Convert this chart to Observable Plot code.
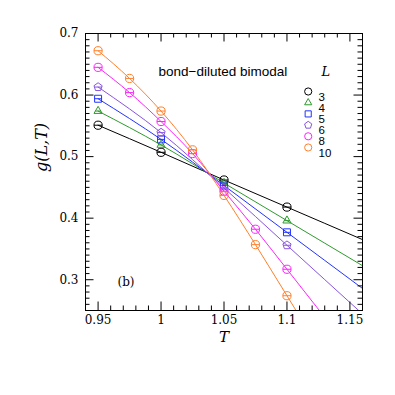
<!DOCTYPE html>
<html>
<head>
<meta charset="utf-8">
<script src="https://cdn.jsdelivr.net/npm/d3@7"></script>
<script src="https://cdn.jsdelivr.net/npm/@observablehq/plot@0.6"></script>
<style>
  html, body { margin: 0; padding: 0; background: #fff; }
  svg { display: block; }
</style>
</head>
<body>
<div id="chart"></div>
<script>
// ---- data ----
const sizes = [3, 4, 5, 6, 8, 10];
const colors = ["#000000", "#2e9a2e", "#2233ff", "#8855dd", "#ff22ff", "#ff7f2a"];
const T4 = [0.95, 1.0, 1.05, 1.1];
const T7 = [0.95, 0.975, 1.0, 1.025, 1.05, 1.075, 1.1];
const g3 = [0.551, 0.507, 0.462, 0.418];
const g4 = [0.574, 0.519, 0.457, 0.396];
const g5 = [0.594, 0.528, 0.453, 0.377];
const g6 = [0.613, 0.539, 0.449, 0.356];
const g8 = [0.645, 0.604, 0.557, 0.505, 0.444, 0.382, 0.317];
const g10 = [0.672, 0.627, 0.574, 0.511, 0.437, 0.357, 0.274];
const xMajor = [0.95, 1.0, 1.05, 1.1, 1.15];
const yMajor = [0.3, 0.4, 0.5, 0.6, 0.7];
const xDomain = [0.94, 1.16];
const yDomain = [0.25, 0.70];
const title = "bond\u2212diluted bimodal";

const seriesT = [T4, T4, T4, T4, T7, T7];
const seriesG = [g3, g4, g5, g6, g8, g10];

// ---- symbols ----
function bar(ctx, r) { ctx.moveTo(-r, 0); ctx.lineTo(r, 0); }
function poly(ctx, n, r, rot) {
  for (let k = 0; k < n; ++k) {
    const a = rot + k * 2 * Math.PI / n;
    const px = r * Math.cos(a), py = r * Math.sin(a);
    if (k === 0) ctx.moveTo(px, py); else ctx.lineTo(px, py);
  }
  ctx.closePath();
}
function makeSymbol(kind, withBar) {
  return {
    draw(ctx, size) {
      const r = Math.sqrt(size / Math.PI);
      if (kind === "circle") { ctx.moveTo(r, 0); ctx.arc(0, 0, r, 0, 2 * Math.PI); if (withBar) bar(ctx, r); }
      else if (kind === "square") { const s = r * 0.85; ctx.rect(-s, -s, 2 * s, 2 * s); if (withBar) bar(ctx, s); }
      else if (kind === "triangle") { const q = r * 1.15; poly(ctx, 3, q, -Math.PI / 2); if (withBar) bar(ctx, q * 0.6); }
      else if (kind === "pentagon") { const q = r * 1.05; poly(ctx, 5, q, -Math.PI / 2); if (withBar) bar(ctx, q * 0.85); }
    }
  };
}
const kinds = ["circle", "triangle", "square", "pentagon", "circle", "circle"];

// ---- lines: through the points, continued along the last segment to the frame edge ----
const points = [];
const lines = [];
sizes.forEach((L, i) => {
  const ts = seriesT[i], gs = seriesG[i], n = ts.length;
  ts.forEach((T, j) => { points.push({L, i, T, g: gs[j]}); lines.push({L, i, T, g: gs[j]}); });
  const slope = (gs[n - 1] - gs[n - 2]) / (ts[n - 1] - ts[n - 2]);
  const Tend = xDomain[1];
  lines.push({L, i, T: Tend, g: gs[n - 1] + slope * (Tend - ts[n - 1])});
});

// ---- ticks ----
const xMinor = d3.range(94, 117).map(d => d / 100).filter(v => !xMajor.some(m => Math.abs(m - v) < 1e-9));
const yMinor = d3.range(25, 71).map(d => d / 100).filter(v => !yMajor.some(m => Math.abs(m - v) < 1e-9));

const W = 395, H = 395, mL = 85, mR = 33, mT = 33, mB = 85;
const fw = W - mL - mR, fh = H - mT - mB;
const majLen = 8.5, minLen = 4.5;
const serif = "'DejaVu Serif', 'Liberation Serif', serif";
const sans = "'Liberation Sans', Arial, sans-serif";
const fmt = d => String(+d.toFixed(2));

const marks = [];
sizes.forEach((L, i) => {
  marks.push(Plot.line(lines.filter(d => d.i === i), {x: "T", y: "g", stroke: colors[i], strokeWidth: 1, curve: "monotone-x", clip: true}));
});
sizes.forEach((L, i) => {
  marks.push(Plot.dot(points.filter(d => d.i === i), {x: "T", y: "g", r: 4.1, symbol: makeSymbol(kinds[i], true), stroke: colors[i], fill: "none", strokeWidth: 1}));
});
marks.push(Plot.tickY(yMajor, {y: d => d, insetRight: fw - majLen, stroke: "black"}));
marks.push(Plot.tickY(yMinor, {y: d => d, insetRight: fw - minLen, stroke: "black"}));
marks.push(Plot.tickY(yMajor, {y: d => d, insetLeft: fw - majLen, stroke: "black"}));
marks.push(Plot.tickY(yMinor, {y: d => d, insetLeft: fw - minLen, stroke: "black"}));
marks.push(Plot.tickX(xMajor, {x: d => d, insetTop: fh - majLen, stroke: "black"}));
marks.push(Plot.tickX(xMinor, {x: d => d, insetTop: fh - minLen, stroke: "black"}));
marks.push(Plot.tickX(xMajor, {x: d => d, insetBottom: fh - majLen, stroke: "black"}));
marks.push(Plot.tickX(xMinor, {x: d => d, insetBottom: fh - minLen, stroke: "black"}));
marks.push(Plot.frame({stroke: "black", strokeWidth: 1}));
marks.push(Plot.axisX(xMajor, {tickSize: 0, tickPadding: 5, tickFormat: fmt, label: null, fontSize: 12, fontFamily: serif, fill: "black"}));
marks.push(Plot.axisY(yMajor, {tickSize: 0, tickPadding: 7, tickFormat: fmt, label: null, fontSize: 12, fontFamily: serif, fill: "black"}));
marks.push(Plot.text(["T"], {text: d => d, frameAnchor: "bottom", dy: 31, fontSize: 15, fontStyle: "italic", fontFamily: serif, fill: "black"}));
marks.push(Plot.text(["g(L,T)"], {text: d => d, frameAnchor: "left", dx: -44, rotate: -90, fontSize: 16, fontStyle: "italic", fontFamily: serif, fill: "black"}));
marks.push(Plot.text([title], {text: d => d, frameAnchor: "top-left", dx: 73, dy: 33, textAnchor: "start", fontSize: 13.5, fontFamily: sans, fill: "black"}));
marks.push(Plot.text(["L"], {text: d => d, frameAnchor: "top-left", dx: 236, dy: 33, fontSize: 13, fontStyle: "italic", fontFamily: serif, fill: "black"}));
marks.push(Plot.text(["(b)"], {text: d => d, frameAnchor: "top-left", dx: 32, dy: 244, fontSize: 12, fontFamily: serif, fill: "black"}));
sizes.forEach((L, i) => {
  const dy = 58 + i * 11.2;
  marks.push(Plot.dot([L], {frameAnchor: "top-left", dx: 222.7, dy, r: 3.6, symbol: makeSymbol(kinds[i], false), stroke: colors[i], fill: "none", strokeWidth: 1}));
  marks.push(Plot.text([L], {text: d => String(d), frameAnchor: "top-left", dx: 233, dy: dy + 1, textAnchor: "start", fontSize: 11.5, fontFamily: sans, fill: "black"}));
});

const chart = Plot.plot({
  width: W, height: H,
  marginLeft: mL, marginRight: mR, marginTop: mT, marginBottom: mB,
  x: {domain: xDomain, axis: null},
  y: {domain: yDomain, axis: null},
  style: {background: "white", color: "black"},
  marks
});
document.getElementById("chart").appendChild(chart);
</script>
</body>
</html>
